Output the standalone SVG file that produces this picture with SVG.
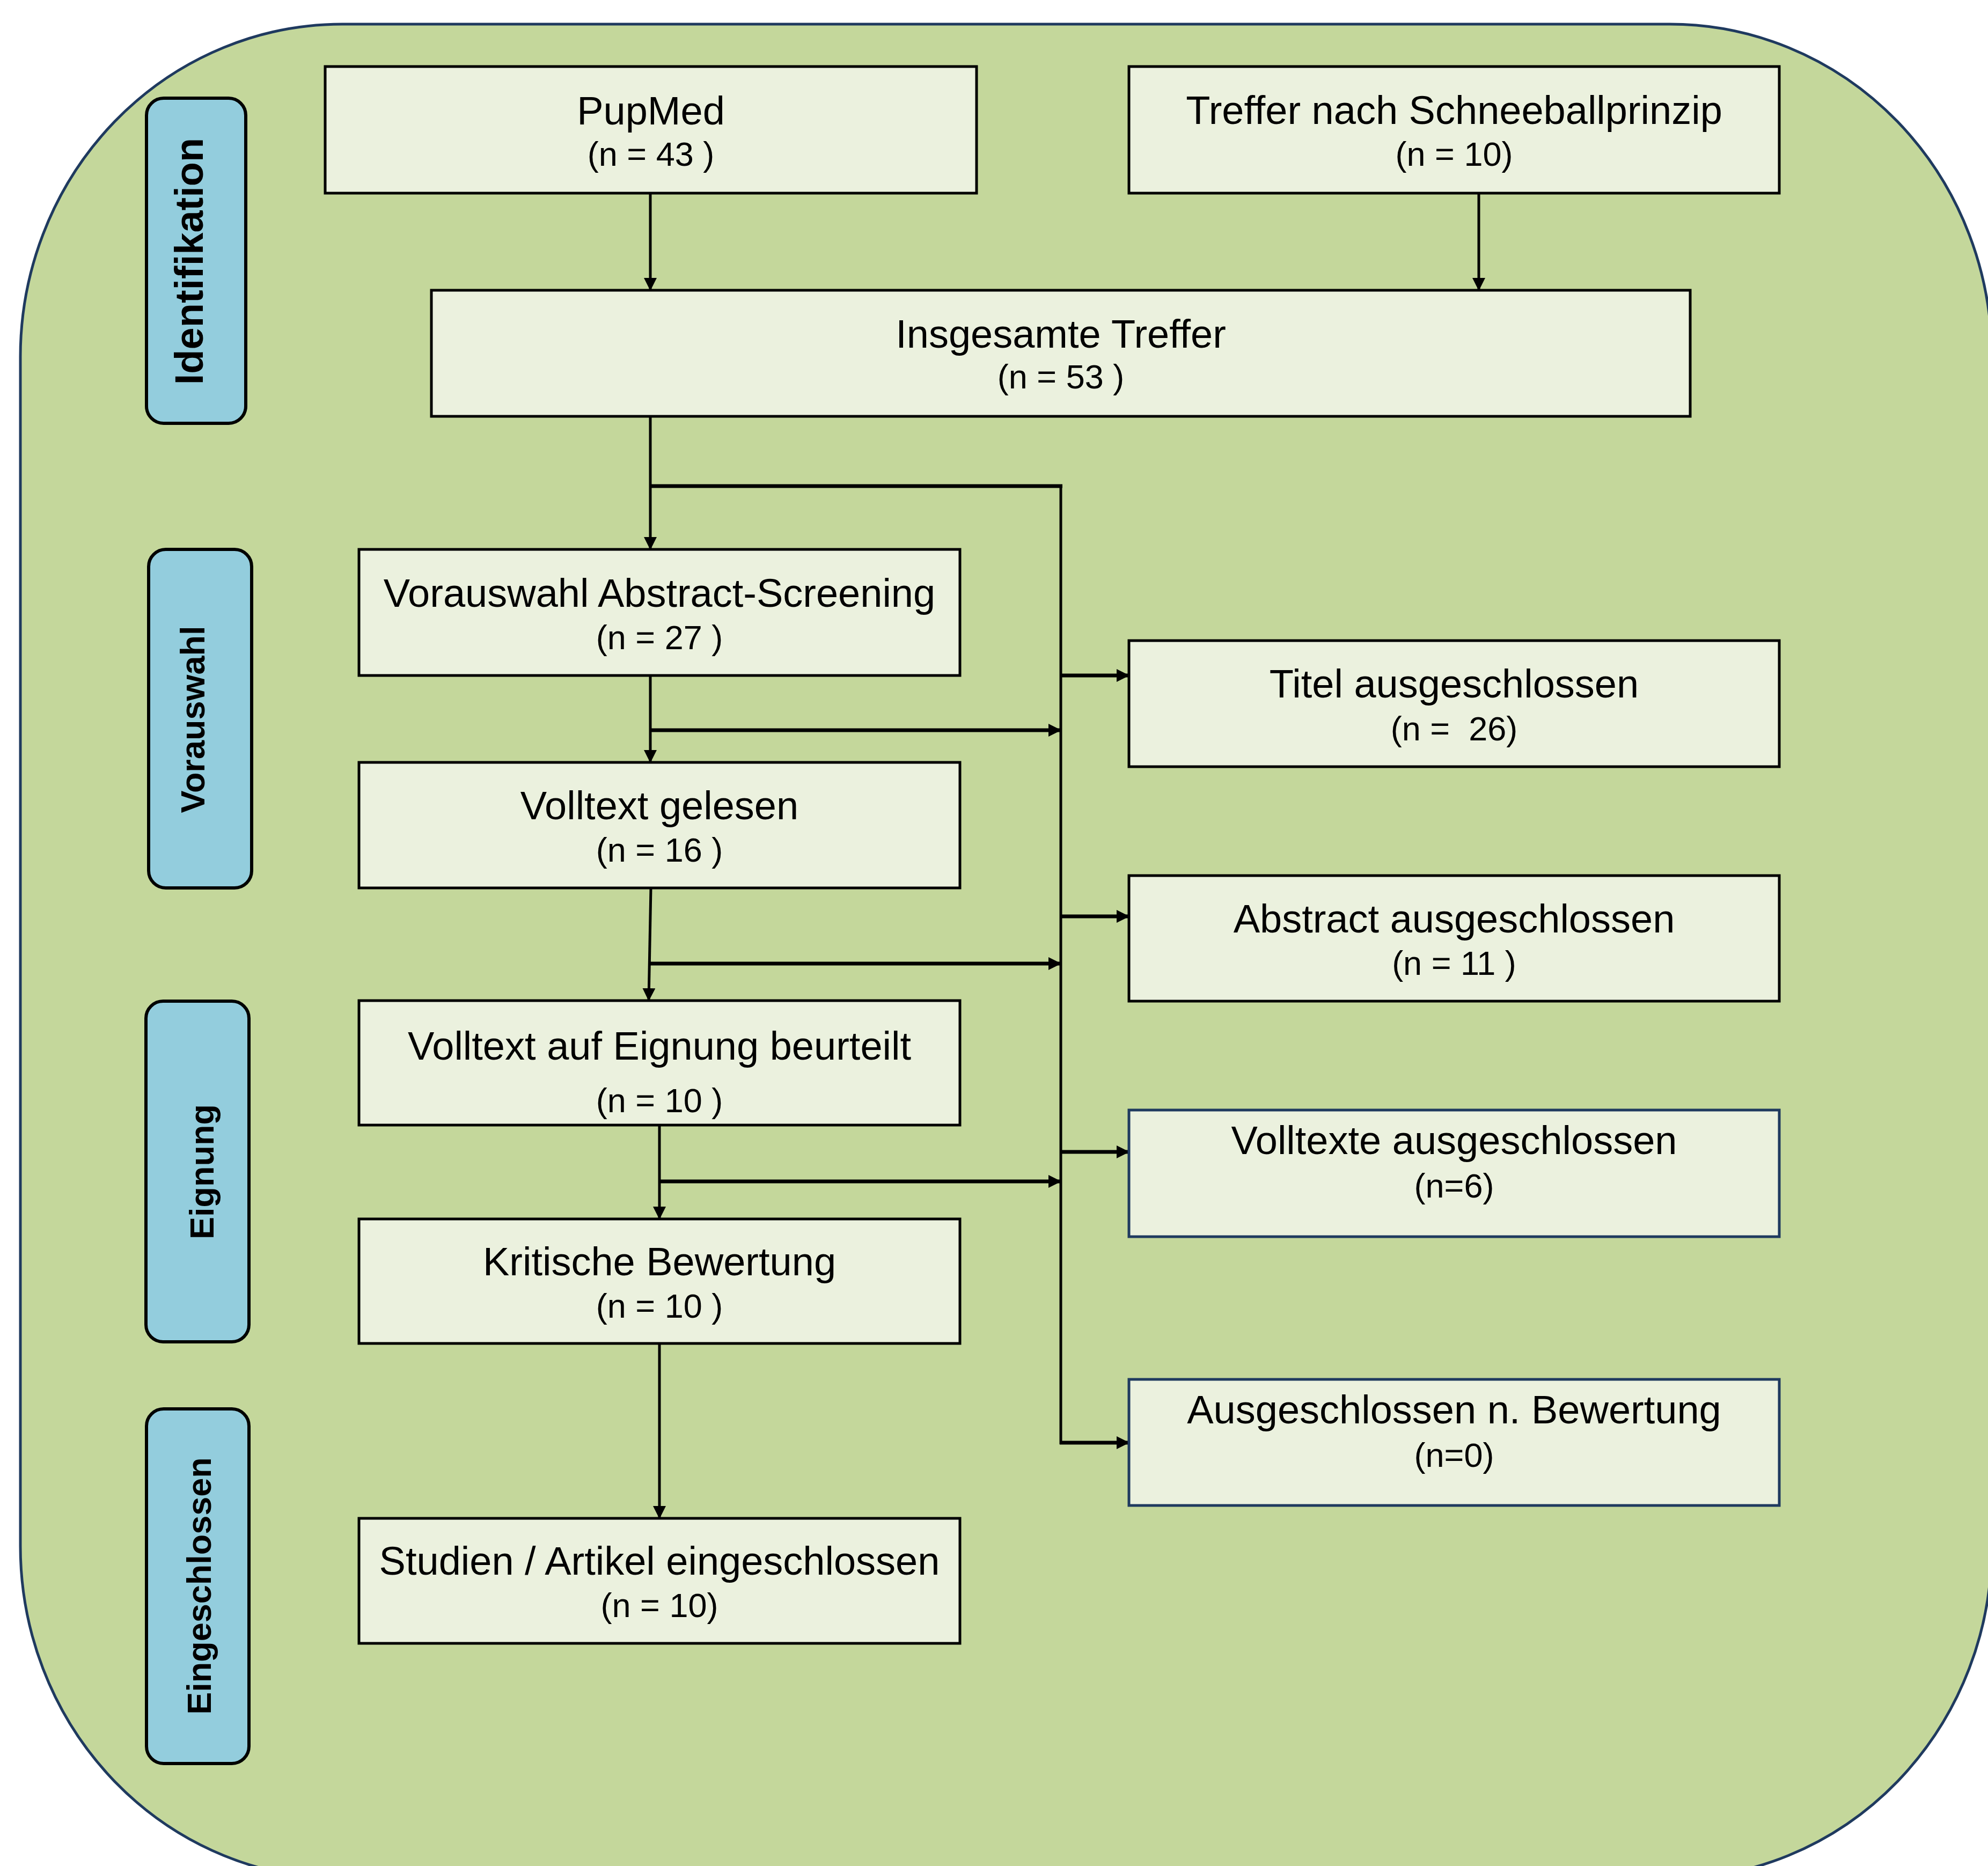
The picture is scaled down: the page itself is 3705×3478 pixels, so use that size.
<svg xmlns="http://www.w3.org/2000/svg" width="3705" height="3478" viewBox="0 0 3705 3478">
<style>
.bg{fill:#C4D79B;stroke:#1F3A5F;stroke-width:5}
.box{fill:#EBF1DE;stroke:#000;stroke-width:5}
.box2{fill:#EBF1DE;stroke:#1F3A5F;stroke-width:5}
.lab{fill:#93CDDD;stroke:#000;stroke-width:6}
.t{font-family:"Liberation Sans",Arial,sans-serif;font-size:74px;text-anchor:middle;fill:#000}
.s{font-family:"Liberation Sans",Arial,sans-serif;font-size:63px;text-anchor:middle;fill:#000}
.lt{font-family:"Liberation Sans",Arial,sans-serif;font-weight:bold;font-size:63px;text-anchor:middle;fill:#000}
.c{fill:none;stroke:#000;stroke-width:5}
.c2{fill:none;stroke:#000;stroke-width:7}
</style>
<defs>
<marker id="ah" markerUnits="userSpaceOnUse" markerWidth="24" markerHeight="24" viewBox="0 0 24 24" refX="23" refY="12" orient="auto">
<path d="M0,0 L24,12 L0,24 Z" fill="#000"/>
</marker>
</defs>
<rect class="bg" x="38" y="45" width="3674" height="3457" rx="600" ry="620"/>

<g id="label-identifikation">
<rect class="lab" x="273" y="183" width="185" height="606" rx="32"/>
<text class="lt" style="font-size:74px" transform="translate(378,487) rotate(-90)">Identifikation</text>
</g>
<g id="label-vorauswahl">
<rect class="lab" x="277" y="1024" width="192" height="631" rx="32"/>
<text class="lt" transform="translate(381,1341) rotate(-90)">Vorauswahl</text>
</g>
<g id="label-eignung">
<rect class="lab" x="272" y="1866" width="192" height="635" rx="32"/>
<text class="lt" transform="translate(398,2184) rotate(-90)">Eignung</text>
</g>
<g id="label-eingeschlossen">
<rect class="lab" x="273" y="2626" width="191" height="661" rx="32"/>
<text class="lt" transform="translate(393,2956) rotate(-90)">Eingeschlossen</text>
</g>

<g id="connectors">
<line class="c" x1="1212" y1="360" x2="1212" y2="541" marker-end="url(#ah)"/>
<line class="c" x1="2756" y1="360" x2="2756" y2="541" marker-end="url(#ah)"/>
<line class="c" x1="1212" y1="776" x2="1212" y2="1024" marker-end="url(#ah)"/>
<line class="c2" x1="1212" y1="906" x2="1980" y2="906"/>
<line class="c" x1="1977" y1="904" x2="1977" y2="2692"/>
<line class="c2" x1="1977" y1="1259" x2="2104" y2="1259" marker-end="url(#ah)"/>
<line class="c2" x1="1977" y1="1708" x2="2104" y2="1708" marker-end="url(#ah)"/>
<line class="c2" x1="1977" y1="2147" x2="2104" y2="2147" marker-end="url(#ah)"/>
<line class="c2" x1="1975" y1="2689" x2="2104" y2="2689" marker-end="url(#ah)"/>
<line class="c" x1="1212" y1="1259" x2="1212" y2="1421" marker-end="url(#ah)"/>
<line class="c2" x1="1212" y1="1361" x2="1977" y2="1361" marker-end="url(#ah)"/>
<line class="c" x1="1213" y1="1655" x2="1209" y2="1865" marker-end="url(#ah)"/>
<line class="c2" x1="1211" y1="1796" x2="1977" y2="1796" marker-end="url(#ah)"/>
<line class="c" x1="1229" y1="2097" x2="1229" y2="2272" marker-end="url(#ah)"/>
<line class="c2" x1="1229" y1="2202" x2="1977" y2="2202" marker-end="url(#ah)"/>
<line class="c" x1="1229" y1="2504" x2="1229" y2="2830" marker-end="url(#ah)"/>
</g>

<g id="pupmed">
<rect class="box" x="606" y="124" width="1214" height="236"/>
<text class="t" x="1213" y="232">PupMed</text>
<text class="s" x="1213" y="309">(n = 43 )</text>
</g>
<g id="schneeball">
<rect class="box" x="2104" y="124" width="1212" height="236"/>
<text class="t" x="2710" y="231">Treffer nach Schneeballprinzip</text>
<text class="s" x="2710" y="309">(n = 10)</text>
</g>
<g id="insgesamt">
<rect class="box" x="804" y="541" width="2346" height="235"/>
<text class="t" x="1977" y="648">Insgesamte Treffer</text>
<text class="s" x="1977" y="724">(n = 53 )</text>
</g>
<g id="vorauswahl">
<rect class="box" x="669" y="1024" width="1120" height="235"/>
<text class="t" x="1229" y="1131">Vorauswahl Abstract-Screening</text>
<text class="s" x="1229" y="1210">(n = 27 )</text>
</g>
<g id="volltext-gelesen">
<rect class="box" x="669" y="1421" width="1120" height="234"/>
<text class="t" x="1229" y="1527">Volltext gelesen</text>
<text class="s" x="1229" y="1606">(n = 16 )</text>
</g>
<g id="volltext-eignung">
<rect class="box" x="669" y="1865" width="1120" height="232"/>
<text class="t" x="1229" y="1975">Volltext auf Eignung beurteilt</text>
<text class="s" x="1229" y="2073">(n = 10 )</text>
</g>
<g id="kritische-bewertung">
<rect class="box" x="669" y="2272" width="1120" height="232"/>
<text class="t" x="1229" y="2377">Kritische Bewertung</text>
<text class="s" x="1229" y="2456">(n = 10 )</text>
</g>
<g id="studien">
<rect class="box" x="669" y="2830" width="1120" height="233"/>
<text class="t" x="1229" y="2935">Studien / Artikel eingeschlossen</text>
<text class="s" x="1229" y="3014">(n = 10)</text>
</g>
<g id="titel-ausgeschlossen">
<rect class="box" x="2104" y="1194" width="1212" height="235"/>
<text class="t" x="2710" y="1300">Titel ausgeschlossen</text>
<text class="s" x="2710" y="1380" xml:space="preserve">(n =  26)</text>
</g>
<g id="abstract-ausgeschlossen">
<rect class="box" x="2104" y="1632" width="1212" height="234"/>
<text class="t" x="2710" y="1738">Abstract ausgeschlossen</text>
<text class="s" x="2710" y="1817">(n = 11 )</text>
</g>
<g id="volltexte-ausgeschlossen">
<rect class="box2" x="2104" y="2069" width="1212" height="236"/>
<text class="t" x="2710" y="2151">Volltexte ausgeschlossen</text>
<text class="s" x="2710" y="2232">(n=6)</text>
</g>
<g id="ausgeschlossen-bewertung">
<rect class="box2" x="2104" y="2571" width="1212" height="235"/>
<text class="t" x="2710" y="2653">Ausgeschlossen n. Bewertung</text>
<text class="s" x="2710" y="2734">(n=0)</text>
</g>
</svg>
